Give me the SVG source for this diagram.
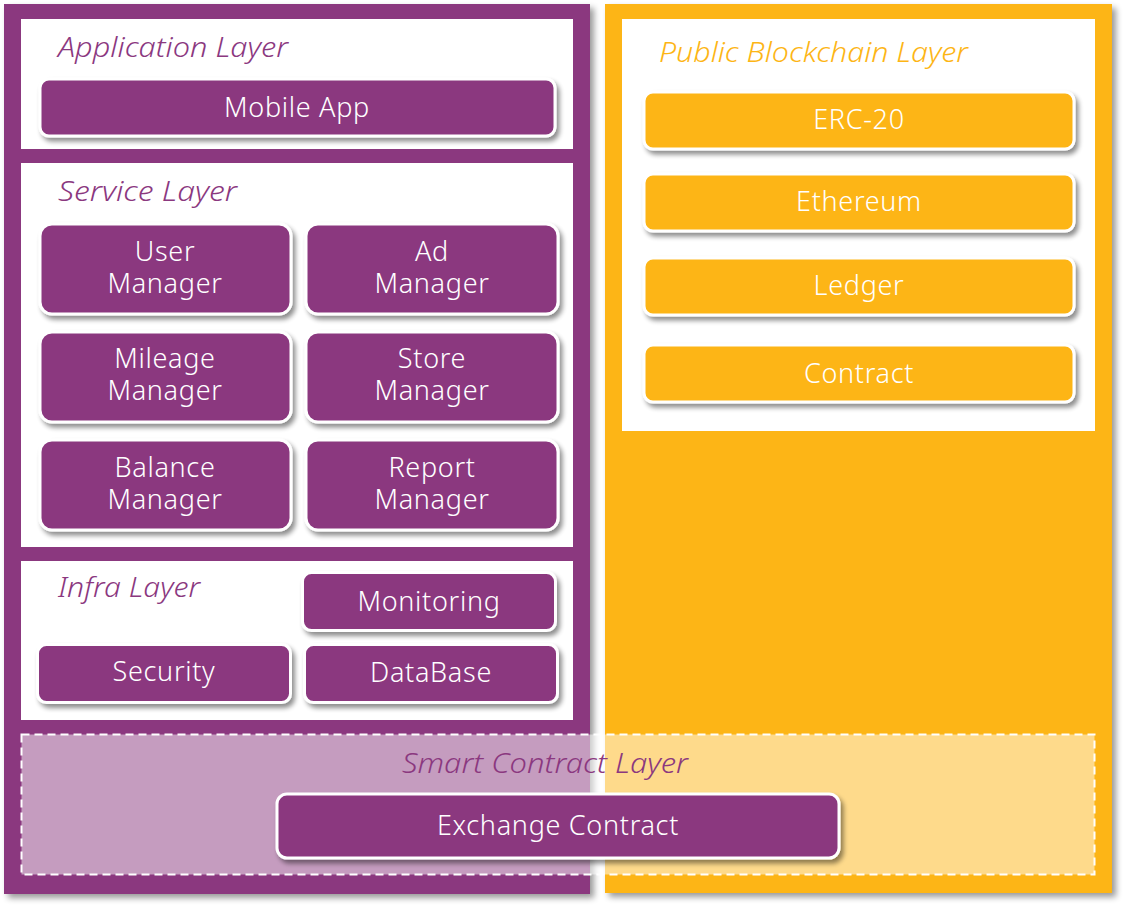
<svg xmlns="http://www.w3.org/2000/svg" width="1125" height="907" viewBox="0 0 1125 907">
<defs>
<filter id="sh" x="-10%" y="-20%" width="130%" height="160%">
<feGaussianBlur in="SourceAlpha" stdDeviation="2.5"/>
<feOffset dx="3" dy="4" result="b"/>
<feComponentTransfer><feFuncA type="linear" slope="0.45"/></feComponentTransfer>
<feMerge><feMergeNode/><feMergeNode in="SourceGraphic"/></feMerge>
</filter>
<filter id="sh2" x="-5%" y="-5%" width="110%" height="110%">
<feGaussianBlur in="SourceAlpha" stdDeviation="3"/>
<feOffset dx="4" dy="4" result="b"/>
<feComponentTransfer><feFuncA type="linear" slope="0.4"/></feComponentTransfer>
<feMerge><feMergeNode/><feMergeNode in="SourceGraphic"/></feMerge>
</filter>
</defs>
<style>
.p{fill:#8B387F;stroke:#fff;stroke-width:3}
.o{fill:#FDB515;stroke:#fff;stroke-width:3}
.t{font-family:"Noto Sans","Open Sans",sans-serif;font-size:27px;font-weight:300;letter-spacing:0.7px;fill:#fff;text-anchor:middle}
.h{font-family:"Noto Sans","Open Sans",sans-serif;font-size:27px;font-weight:300;font-style:italic}
.hp{fill:#8B387F}
.ho{fill:#FDB515}
</style>
<rect width="1125" height="907" fill="#fff"/>
<g id="left-column">
<rect x="4" y="4" width="586" height="890" fill="#8B387F" filter="url(#sh2)"/>
</g>
<g id="right-column">
<rect x="605" y="4" width="507" height="889" fill="#FDB515" filter="url(#sh2)"/>
</g>
<g id="application-layer">
<rect x="21" y="19" width="552" height="130" fill="#fff"/>
<text class="h hp" x="58" y="57" textLength="230" lengthAdjust="spacingAndGlyphs">Application Layer</text>
</g>
<g id="mobile-app">
<rect class="p" x="40" y="79" width="515" height="57" rx="9" filter="url(#sh)"/>
<text class="t" x="297" y="117">Mobile App</text>
</g>
<g id="service-layer">
<rect x="21" y="163" width="552" height="384" fill="#fff"/>
<text class="h hp" x="58" y="201" textLength="179" lengthAdjust="spacingAndGlyphs">Service Layer</text>
</g>
<g id="user-manager">
<rect class="p" x="40" y="224" width="251" height="90" rx="12" filter="url(#sh)"/>
<text class="t"><tspan x="165" y="261">User</tspan><tspan x="165" y="293">Manager</tspan></text>
</g>
<g id="ad-manager">
<rect class="p" x="306" y="224" width="252" height="90" rx="12" filter="url(#sh)"/>
<text class="t"><tspan x="432" y="261">Ad</tspan><tspan x="432" y="293">Manager</tspan></text>
</g>
<g id="mileage-manager">
<rect class="p" x="40" y="332" width="251" height="90" rx="12" filter="url(#sh)"/>
<text class="t"><tspan x="165" y="368">Mileage</tspan><tspan x="165" y="400">Manager</tspan></text>
</g>
<g id="store-manager">
<rect class="p" x="306" y="332" width="252" height="90" rx="12" filter="url(#sh)"/>
<text class="t"><tspan x="432" y="368">Store</tspan><tspan x="432" y="400">Manager</tspan></text>
</g>
<g id="balance-manager">
<rect class="p" x="40" y="440" width="251" height="90" rx="12" filter="url(#sh)"/>
<text class="t"><tspan x="165" y="477">Balance</tspan><tspan x="165" y="509">Manager</tspan></text>
</g>
<g id="report-manager">
<rect class="p" x="306" y="440" width="252" height="90" rx="12" filter="url(#sh)"/>
<text class="t"><tspan x="432" y="477">Report</tspan><tspan x="432" y="509">Manager</tspan></text>
</g>
<g id="infra-layer">
<rect x="21" y="561" width="552" height="159" fill="#fff"/>
<text class="h hp" x="58" y="597" textLength="142" lengthAdjust="spacingAndGlyphs">Infra Layer</text>
</g>
<g id="monitoring">
<rect class="p" x="302.5" y="572.5" width="253" height="58" rx="9" filter="url(#sh)"/>
<text class="t" x="429" y="611">Monitoring</text>
</g>
<g id="security">
<rect class="p" x="37.5" y="644.5" width="253" height="58" rx="9" filter="url(#sh)"/>
<text class="t" x="164" y="681">Security</text>
</g>
<g id="database">
<rect class="p" x="304.5" y="644.5" width="253" height="58" rx="9" filter="url(#sh)"/>
<text class="t" x="431" y="682">DataBase</text>
</g>
<g id="public-blockchain-layer">
<rect x="622" y="19" width="473" height="412" fill="#fff"/>
<text class="h ho" x="659" y="62" textLength="309" lengthAdjust="spacingAndGlyphs">Public Blockchain Layer</text>
</g>
<g id="erc-20">
<rect class="o" x="644" y="92" width="430" height="57" rx="9" filter="url(#sh)"/>
<text class="t" x="859" y="129">ERC-20</text>
</g>
<g id="ethereum">
<rect class="o" x="644" y="174" width="430" height="57" rx="9" filter="url(#sh)"/>
<text class="t" x="859" y="211">Ethereum</text>
</g>
<g id="ledger">
<rect class="o" x="644" y="258" width="430" height="57" rx="9" filter="url(#sh)"/>
<text class="t" x="859" y="295">Ledger</text>
</g>
<g id="contract">
<rect class="o" x="644" y="345" width="430" height="57" rx="9" filter="url(#sh)"/>
<text class="t" x="859" y="383">Contract</text>
</g>
<g id="smart-contract-layer">
<rect x="21.5" y="734.5" width="1073" height="140" fill="#fff" fill-opacity="0.5" stroke="#fff" stroke-width="2" stroke-dasharray="8 5"/>
<text class="h hp" x="402" y="773" textLength="286" lengthAdjust="spacingAndGlyphs">Smart Contract Layer</text>
</g>
<g id="exchange-contract">
<rect class="p" x="277" y="794" width="562" height="64" rx="10" filter="url(#sh)"/>
<text class="t" x="558" y="835">Exchange Contract</text>
</g>
<g id="connectors"/>
</svg>
